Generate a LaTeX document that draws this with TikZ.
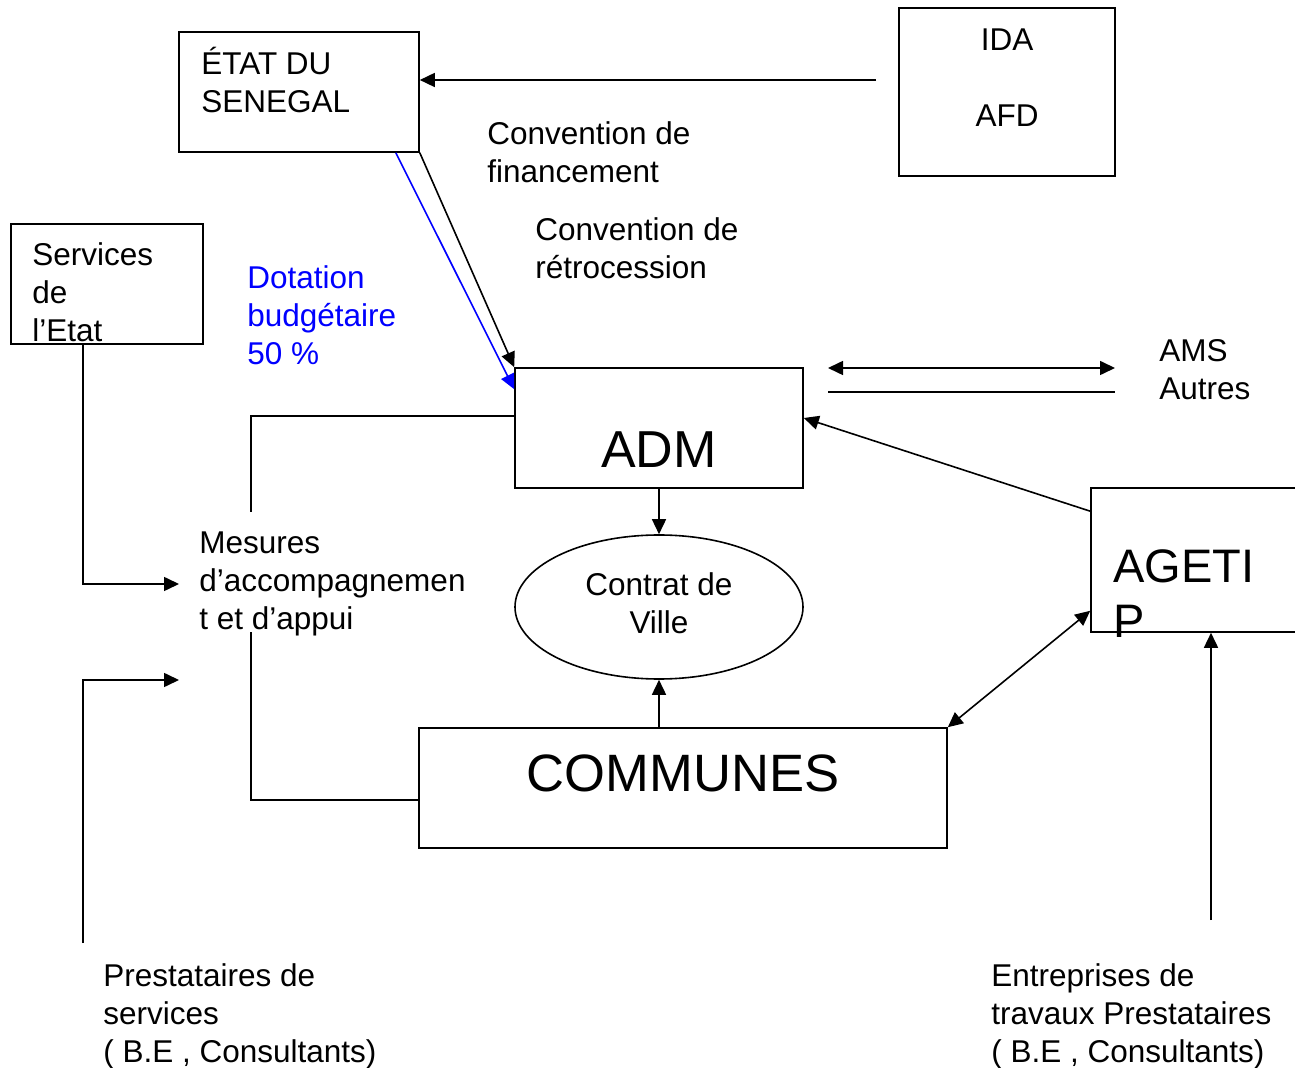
\documentclass[tikz,border=0pt]{standalone}
\usepackage{fontspec}
\setmainfont{Liberation Sans}
\usetikzlibrary{arrows.meta,fit,shapes.geometric}
\begin{document}
\begin{tikzpicture}[x=0.5pt,y=-0.5pt,
  every node/.style={font={\fontsize{15.75pt}{19pt}\selectfont}, inner sep=0pt},
  box/.style={draw, line width=0.8pt, rectangle, inner sep=0pt},
  txt/.style={align=left, anchor=base west},
  conn/.style={line width=0.8pt},
  arr/.style={conn, -{Triangle[length=7.5pt,width=7pt]}},
  darr/.style={conn, {Triangle[length=7.5pt,width=7pt]}-{Triangle[length=7.5pt,width=7pt]}},
]
\useasboundingbox (0,0) rectangle (1295,1068);
\clip (0,0) rectangle (1295,1068);
% boxes
\node[box, fit={(179,32)(419,152)}] (etat) {};
\node[txt] (etatT) at (201,113) {ÉTAT DU\\SENEGAL};
\node[box, fit={(899,8)(1115,176)}] (ida) {};
\node[align=center, anchor=base] (idaT) at (1007,127) {IDA\\[19pt]AFD};
\node[box, fit={(11,224)(203,344)}] (serv) {};
\node[txt] (servT) at (32,342) {Services\\de\\l’Etat};
\node[box, fit={(515,368)(803,488)}] (adm) {};
\node[font={\fontsize{26pt}{30pt}\selectfont}, anchor=base] (admT) at (659,468) {ADM};
\node[draw, ellipse, line width=0.8pt, minimum width=144pt, minimum height=72pt] (cv) at (659,607) {};
\node[align=center, anchor=base] (cvT) at (659,634) {Contrat de\\Ville};
\node[box, fit={(419,728)(947,848)}] (com) {};
\node[font={\fontsize{26.3pt}{30pt}\selectfont}, anchor=base] (comT) at (683,791) {COMMUNES};
\node[box, fit={(1091,488)(1320,632)}] (ag) {};
\node[txt, font={\fontsize{23.5pt}{27.5pt}\selectfont}] (agT) at (1113,638) {AGETI\\P};
% labels
\node[txt, text=blue] (dot) at (247,365) {Dotation\\budgétaire\\50 \%};
\node[txt] (cf) at (487,183) {Convention de\\financement};
\node[txt] (cr) at (535,279) {Convention de\\rétrocession};
\node[txt] (ams) at (1159,400) {AMS\\Autres};
\node[txt] (mes) at (199,630) {Mesures\\d’accompagnemen\\t et d’appui};
\node[txt] (prest) at (103,1062) {Prestataires de\\services\\( B.E , Consultants)};
\node[txt] (entr) at (991,1062) {Entreprises de\\travaux Prestataires\\( B.E , Consultants)};
% connectors
\coordinate (idaS) at (876,80);
\draw[arr] (idaS) -- (etat.east |- idaS);
\draw[arr] (etat.south east) -- (adm.north west);
\draw[arr, blue] ([xshift=-12pt]etat.south east) -- ([yshift=-11pt]adm.north west);
\coordinate (amsL) at (828,368);
\coordinate (amsR) at (1115,368);
\draw[darr] (amsL) -- (amsR);
\coordinate (amsL2) at (828,392);
\coordinate (amsR2) at (1115,392);
\draw[conn] (amsL2) -- (amsR2);
\draw[arr] ([yshift=-12pt]ag.north west) -- ([yshift=5pt]adm.east);
\draw[arr] (adm.south) -- (cv.north);
\draw[arr] (cv.south |- com.north) -- (cv.south);
\draw[darr] (com.north east) -- ([yshift=11pt]ag.south west);
\coordinate (entrTop) at (1211,920);
\draw[arr] (entrTop) -- (entrTop |- ag.south);
\coordinate (servX) at (83,344);
\coordinate (mesIn1) at (179,584);
\draw[arr] (servX) |- (mesIn1);
\coordinate (prestS) at (83,943);
\coordinate (mesIn2) at (179,680);
\draw[arr] (prestS) |- (mesIn2);
\coordinate (bt) at (251,512);
\draw[conn] ([yshift=6pt]adm.west) -| (bt);
\coordinate (bb) at (251,632);
\draw[conn] ([yshift=-6pt]com.west) -| (bb);
\end{tikzpicture}
\end{document}
